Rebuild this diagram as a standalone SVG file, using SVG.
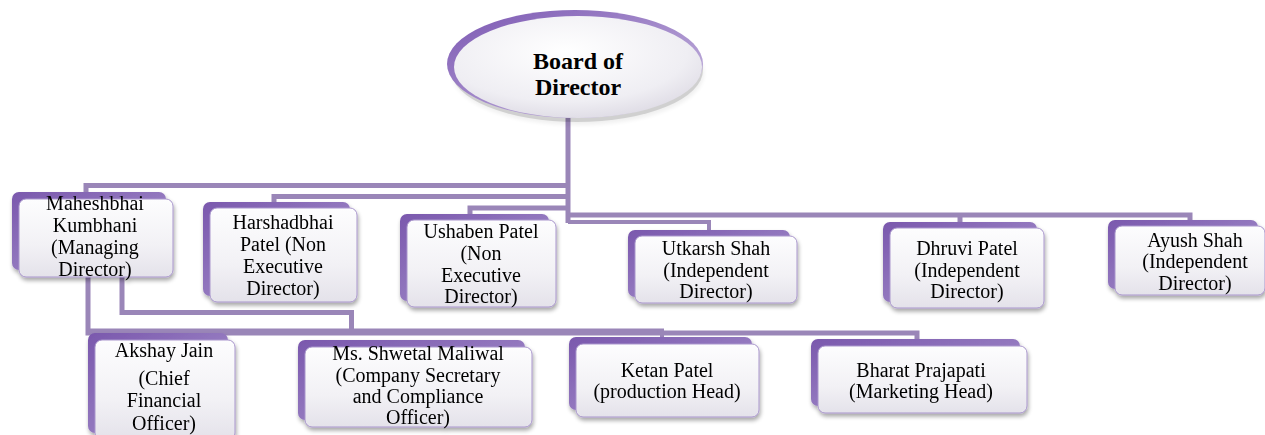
<svg xmlns="http://www.w3.org/2000/svg" width="1265" height="435" viewBox="0 0 1265 435">
<defs>
<linearGradient id="backG" x1="0" y1="0" x2="1" y2="1">
<stop offset="0" stop-color="#7A58AD"/>
<stop offset="0.5" stop-color="#9277BE"/>
<stop offset="1" stop-color="#B7A3D6"/>
</linearGradient>
<linearGradient id="frontG" x1="0" y1="0" x2="0" y2="1">
<stop offset="0" stop-color="#FDFDFE"/>
<stop offset="0.6" stop-color="#F2F1F5"/>
<stop offset="1" stop-color="#E4E2EA"/>
</linearGradient>
<linearGradient id="rimG" x1="0" y1="0" x2="1" y2="1">
<stop offset="0" stop-color="#7B57B2"/>
<stop offset="0.5" stop-color="#A48BCB"/>
<stop offset="1" stop-color="#C9BCE0"/>
</linearGradient>
<radialGradient id="ellG" cx="0.45" cy="0.35" r="0.7">
<stop offset="0" stop-color="#FFFFFF"/>
<stop offset="0.7" stop-color="#EFEEF3"/>
<stop offset="1" stop-color="#DCD9E3"/>
</radialGradient>
<filter id="sh" x="-10%" y="-10%" width="120%" height="130%">
<feGaussianBlur in="SourceAlpha" stdDeviation="2"/>
<feOffset dx="1" dy="3" result="b"/>
<feComponentTransfer><feFuncA type="linear" slope="0.35"/></feComponentTransfer>
<feMerge><feMergeNode/><feMergeNode in="SourceGraphic"/></feMerge>
</filter>
</defs>
<style>
.back{fill:url(#backG);}
.front{fill:url(#frontG);stroke:#A996CC;stroke-width:1;}
text{font-family:'Liberation Serif','Tinos','DejaVu Serif','Noto Serif',serif;fill:#000;text-anchor:middle;}
.t{font-size:20px;}
.tb{font-size:24px;font-weight:bold;}
.c{fill:none;stroke:#9A86B8;stroke-width:5;}
.c2{fill:none;stroke:#9A86B8;stroke-width:4;}
</style>

<g id="connectors">
<path class="c" d="M568,116 V223"/>
<path class="c" d="M86,194 V185.5 H570"/>
<path class="c" d="M274,204 V196.5 H570"/>
<path class="c" d="M470,215 V208 H570"/>
<path class="c" d="M566,215 H1190 V222"/>
<path class="c" d="M960,215 V224"/>
<path class="c2" d="M568,222 H709 V232"/>
<path class="c" d="M88,276 V333 H917 V341"/>
<path class="c2" d="M86,330.5 H662 V339"/>
<path class="c" d="M122,276 V312.5 H351.5 V331"/>
</g>

<g id="board">
<ellipse cx="577" cy="70" rx="126" ry="52" fill="#000" opacity="0.18" filter="url(#sh)"/>
<ellipse cx="575" cy="64" rx="128" ry="54" fill="url(#rimG)"/>
<ellipse cx="578" cy="67" rx="124" ry="51" fill="url(#ellG)"/>
<text class="tb" x="578" y="69" font-family="Liberation Serif, DejaVu Serif, serif">Board of</text>
<text class="tb" x="578" y="95" font-family="Liberation Serif, DejaVu Serif, serif">Director</text>
</g>

<g id="n1" filter="url(#sh)">
<rect class="back" x="12" y="192" width="154" height="78" rx="7"/>
<rect class="front" x="19" y="199" width="154" height="78" rx="7"/>
<text class="t" x="95" y="210">Maheshbhai</text>
<text class="t" x="95" y="232">Kumbhani</text>
<text class="t" x="95" y="254">(Managing</text>
<text class="t" x="95" y="276">Director)</text>
</g>

<g id="n2" filter="url(#sh)">
<rect class="back" x="203" y="202" width="147" height="94" rx="7"/>
<rect class="front" x="210" y="208" width="147" height="94" rx="7"/>
<text class="t" x="283" y="229">Harshadbhai</text>
<text class="t" x="283" y="251">Patel (Non</text>
<text class="t" x="283" y="273">Executive</text>
<text class="t" x="283" y="295">Director)</text>
</g>

<g id="n3" filter="url(#sh)">
<rect class="back" x="400" y="214" width="149" height="87" rx="7"/>
<rect class="front" x="407" y="220" width="149" height="87" rx="7"/>
<text class="t" x="481" y="238">Ushaben Patel</text>
<text class="t" x="481" y="260">(Non</text>
<text class="t" x="481" y="282">Executive</text>
<text class="t" x="481" y="303">Director)</text>
</g>

<g id="n4" filter="url(#sh)">
<rect class="back" x="628" y="230" width="162" height="67" rx="7"/>
<rect class="front" x="635" y="236" width="162" height="67" rx="7"/>
<text class="t" x="716" y="255">Utkarsh Shah</text>
<text class="t" x="716" y="277">(Independent</text>
<text class="t" x="716" y="298">Director)</text>
</g>

<g id="n5" filter="url(#sh)">
<rect class="back" x="883" y="222" width="154" height="80" rx="7"/>
<rect class="front" x="890" y="228" width="154" height="80" rx="7"/>
<text class="t" x="967" y="255">Dhruvi Patel</text>
<text class="t" x="967" y="277">(Independent</text>
<text class="t" x="967" y="298">Director)</text>
</g>

<g id="n6" filter="url(#sh)">
<rect class="back" x="1108" y="220" width="150" height="69" rx="7"/>
<rect class="front" x="1115" y="226" width="150" height="69" rx="7"/>
<text class="t" x="1195" y="247">Ayush Shah</text>
<text class="t" x="1195" y="268">(Independent</text>
<text class="t" x="1195" y="290">Director)</text>
</g>

<g id="n7" filter="url(#sh)">
<rect class="back" x="88" y="333" width="140" height="100" rx="7"/>
<rect class="front" x="95" y="340" width="140" height="100" rx="7"/>
<text class="t" x="164" y="357">Akshay Jain</text>
<text class="t" x="164" y="385">(Chief</text>
<text class="t" x="164" y="407">Financial</text>
<text class="t" x="164" y="430">Officer)</text>
</g>

<g id="n8" filter="url(#sh)">
<rect class="back" x="298" y="340" width="227" height="80" rx="7"/>
<rect class="front" x="305" y="347" width="227" height="80" rx="7"/>
<text class="t" x="418" y="360">Ms. Shwetal Maliwal</text>
<text class="t" x="418" y="382">(Company Secretary</text>
<text class="t" x="418" y="403">and Compliance</text>
<text class="t" x="418" y="424">Officer)</text>
</g>

<g id="n9" filter="url(#sh)">
<rect class="back" x="569" y="337" width="183" height="73" rx="7"/>
<rect class="front" x="576" y="344" width="183" height="73" rx="7"/>
<text class="t" x="667" y="377">Ketan Patel</text>
<text class="t" x="667" y="398">(production Head)</text>
</g>

<g id="n10" filter="url(#sh)">
<rect class="back" x="811" y="339" width="209" height="67" rx="7"/>
<rect class="front" x="818" y="346" width="209" height="67" rx="7"/>
<text class="t" x="921" y="377">Bharat Prajapati</text>
<text class="t" x="921" y="398">(Marketing Head)</text>
</g>
</svg>
